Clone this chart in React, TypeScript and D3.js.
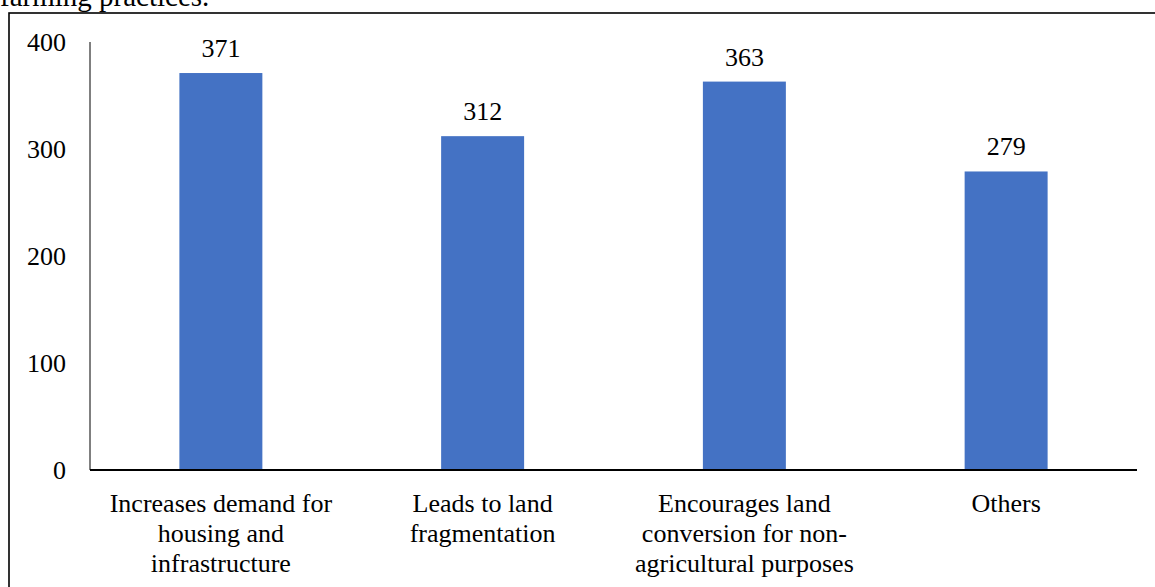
import React from "react";
import * as d3 from "d3";

const categories: string[][] = [
  ["Increases demand for", "housing and", "infrastructure"],
  ["Leads to land", "fragmentation"],
  ["Encourages land", "conversion for non-", "agricultural purposes"],
  ["Others"],
];
const values: number[] = [371, 312, 363, 279];
const yTicks: number[] = [0, 100, 200, 300, 400];

const W = 1155;
const H = 587;
const FONT = "'Liberation Serif', 'Times New Roman', serif";

export default function App() {
  const left = 90;
  const right = 1137;
  const top = 42;
  const bottom = 470;
  const keys = categories.map((_, i) => String(i));
  const x = d3.scaleBand<string>().domain(keys).range([left, right]).paddingInner(0.683).paddingOuter(0.3415);
  const y = d3.scaleLinear().domain([0, 400]).range([bottom, top]);

  return (
    <div style={{ position: "fixed", left: 0, top: 0 }}>
      <svg width={W} height={H} style={{ display: "block", background: "#fff" }}>
        <text x={0} y={6} fontFamily={FONT} fontSize={29} fill="#000">farming practices.</text>
        <rect x={9} y={13} width={1200} height={700} fill="none" stroke="#000" strokeWidth={1.6} />
        {yTicks.map((t) => (
          <text key={t} x={66} y={y(t)} dy="0.35em" textAnchor="end" fontFamily={FONT} fontSize={26} fill="#000">
            {t}
          </text>
        ))}
        <line x1={left} x2={left} y1={top} y2={bottom} stroke="#000" strokeWidth={1} />
        {values.map((v, i) => {
          const bx = x(String(i))!;
          return (
            <g key={i}>
              <rect x={bx} y={y(v)} width={x.bandwidth()} height={bottom - y(v)} fill="#4472C4" />
              <text x={bx + x.bandwidth() / 2} y={y(v) - 16} textAnchor="middle" fontFamily={FONT} fontSize={26} fill="#000">
                {v}
              </text>
            </g>
          );
        })}
        <line x1={left} x2={right} y1={bottom} y2={bottom} stroke="#000" strokeWidth={2} />
        {categories.map((lines, i) => {
          const cx = x(String(i))! + x.bandwidth() / 2;
          return (
            <text key={i} textAnchor="middle" fontFamily={FONT} fontSize={26} fill="#000">
              {lines.map((l, j) => (
                <tspan key={j} x={cx} y={bottom + 42 + j * 30}>{l}</tspan>
              ))}
            </text>
          );
        })}
      </svg>
    </div>
  );
}
